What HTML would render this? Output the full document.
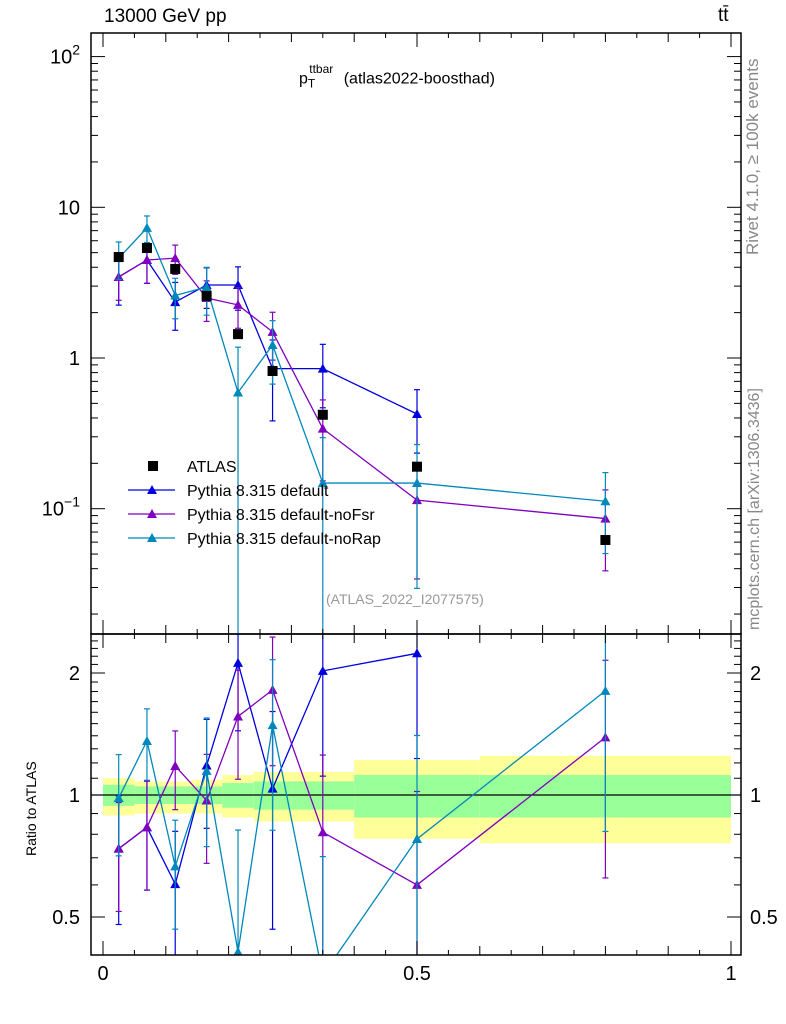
<!DOCTYPE html>
<html><head><meta charset="utf-8">
<style>
html,body{margin:0;padding:0;background:#fff;width:786px;height:1024px;overflow:hidden;}
svg{display:block;font-family:"Liberation Sans",sans-serif;}
</style></head>
<body>
<svg id="chart" width="786" height="1024" xmlns="http://www.w3.org/2000/svg"></svg>
<script>
const xVals=[0.025,0.07,0.115,0.165,0.215,0.27,0.35,0.5,0.8];
const binEdges=[0,0.05,0.09,0.14,0.19,0.24,0.3,0.4,0.6,1.0];
const atlas=[4.68,5.37,3.9,2.58,1.44,0.82,0.42,0.19,0.062];
const pyDefault=[3.45,4.47,2.35,3.05,3.05,0.85,0.85,0.425];
const pyDefaultErr=[0.35,0.3,0.35,0.3,0.32,0.55,0.45,0.45];
const pyNoFsr=[3.45,4.47,4.6,2.5,2.25,1.49,0.34,0.114,0.086];
const pyNoFsrErr=[0.3,0.3,0.22,0.3,0.3,0.35,0.55,0.7,0.55];
const pyNoRap=[4.6,7.3,2.6,2.96,0.59,1.22,0.148,0.148,0.112];
const pyNoRapErr=[0.28,0.2,0.3,0.35,1.0,0.45,1.0,0.8,0.55];
const bandYellowHi=[1.10,1.08,1.08,1.09,1.12,1.14,1.14,1.22,1.25];
const bandYellowLo=[0.89,0.90,0.90,0.90,0.88,0.86,0.86,0.78,0.76];
const bandGreenHi=[1.06,1.05,1.05,1.05,1.07,1.08,1.08,1.12,1.12];
const bandGreenLo=[0.94,0.95,0.95,0.95,0.93,0.92,0.92,0.88,0.88];
const xTickLabels=["0","0.5","1"];

const NS="http://www.w3.org/2000/svg";
const svg=document.getElementById('chart');
const L=91,R=741,X0=103,X1=731;
const mainTop=33,mainBot=634,ratTop=634,ratBot=955;
function sx(v){return X0+(X1-X0)*v;}
function sy(v){return 358-150.7*Math.log10(v);}
function ry(v){return 795-122*Math.log2(v);}
function clamp(y,a,b){return Math.max(a,Math.min(b,y));}
function mk(tag,attrs,parent){const e=document.createElementNS(NS,tag);for(const k in attrs)e.setAttribute(k,attrs[k]);(parent||svg).appendChild(e);return e;}

const defs=mk('defs',{});
const cpM=mk('clipPath',{id:'cm'},defs);mk('rect',{x:L,y:mainTop,width:R-L,height:mainBot-mainTop},cpM);
const cpR=mk('clipPath',{id:'cr'},defs);mk('rect',{x:L,y:ratTop,width:R-L,height:ratBot-ratTop},cpR);

const gBand=mk('g',{'clip-path':'url(#cr)'});


for(let i=0;i<atlas.length;i++){
  const x1=sx(binEdges[i]),x2=sx(binEdges[i+1]);
  const y=mk('rect',{x:x1,y:ry(bandYellowHi[i]),width:x2-x1,height:ry(bandYellowLo[i])-ry(bandYellowHi[i]),fill:'#ffff99'},gBand);
  
  
  const g=mk('rect',{x:x1,y:ry(bandGreenHi[i]),width:x2-x1,height:ry(bandGreenLo[i])-ry(bandGreenHi[i]),fill:'#99ff99'},gBand);
  
  
}
mk('line',{x1:L,x2:R,y1:ry(1),y2:ry(1),stroke:'#000','stroke-width':1.2});

function series(vals,errs,color,name){
  const gm=mk('g',{'clip-path':'url(#cm)'});
  
  
  const gr=mk('g',{'clip-path':'url(#cr)'});
  
  
  const fm=(t)=>clamp(sy(t),mainTop-20,mainBot+20);
  let pm=[],pr=[];
  for(let i=0;i<vals.length;i++){
    const x=sx(xVals[i]);
    const v=vals[i],e=errs[i];
    const lo=Math.max(v*(1-e),1e-4),hi=v*(1+e);
    const fr=(t)=>clamp(ry(t/atlas[i]),ratTop-20,ratBot+20);
    pm.push(x+','+fm(v));
    pr.push(x+','+fr(v));
    [[gm,fm],[gr,fr]].forEach(([g,f])=>{
      mk('line',{x1:x,x2:x,y1:f(lo),y2:f(hi),stroke:color,'stroke-width':1.2},g);
      mk('line',{x1:x-3,x2:x+3,y1:f(lo),y2:f(lo),stroke:color,'stroke-width':1.2},g);
      mk('line',{x1:x-3,x2:x+3,y1:f(hi),y2:f(hi),stroke:color,'stroke-width':1.2},g);
    });
  }
  mk('polyline',{points:pm.join(' '),fill:'none',stroke:color,'stroke-width':1.3},gm);
  mk('polyline',{points:pr.join(' '),fill:'none',stroke:color,'stroke-width':1.3},gr);
  for(let i=0;i<vals.length;i++){
    const x=sx(xVals[i]);
    [[gm,sy(vals[i])],[gr,ry(vals[i]/atlas[i])]].forEach(([g,y])=>{
      const t=mk('polygon',{points:`${x-5},${y+4} ${x+5},${y+4} ${x},${y-5}`,fill:color},g);
      
      
    });
  }
}
series(pyDefault,pyDefaultErr,'#0000dd','pythia-default');
series(pyNoFsr,pyNoFsrErr,'#7f00bf','pythia-nofsr');
series(pyNoRap,pyNoRapErr,'#0088bb','pythia-norap');

const ga=mk('g',{'clip-path':'url(#cm)'});


for(let i=0;i<atlas.length;i++){
  const x=sx(xVals[i]),y=sy(atlas[i]);
  const r=mk('rect',{x:x-5,y:y-5,width:10,height:10,fill:'#000'},ga);
  
  
}

mk('rect',{x:L,y:mainTop,width:R-L,height:mainBot-mainTop,fill:'none',stroke:'#000','stroke-width':1.5});
mk('rect',{x:L,y:ratTop,width:R-L,height:ratBot-ratTop,fill:'none',stroke:'#000','stroke-width':1.5});

for(let k=0;k<=20;k++){
  const v=k*0.05,x=sx(v),major=(k%10==0),med=(k%2==0);
  const len=major?14:(med?9:5);
  [[mainTop,1],[mainBot,-1],[ratTop,1],[ratBot,-1]].forEach(([y,d])=>mk('line',{x1:x,x2:x,y1:y,y2:y+d*len,stroke:'#000','stroke-width':1}));
}
xTickLabels.forEach((t,i)=>{
  const e=mk('text',{x:sx(i*0.5),y:980,'font-size':20,'text-anchor':'middle'});e.textContent=t;
  
  
});
for(let d=-2;d<=2;d++){for(let m=1;m<10;m++){
  const v=m*Math.pow(10,d),y=sy(v);if(y<mainTop||y>mainBot)continue;
  const len=m==1?14:7;
  mk('line',{x1:L,x2:L+len,y1:y,y2:y,stroke:'#000'});
  mk('line',{x1:R,x2:R-len,y1:y,y2:y,stroke:'#000'});
}}
function ylab(html,y){const e=mk('text',{x:80,y:y+7,'font-size':20,'text-anchor':'end'});e.innerHTML=html;
  
  }
ylab('10<tspan dy="-9" font-size="14">2</tspan>',sy(100));
ylab('10',sy(10));
ylab('1',sy(1));
ylab('10<tspan dy="-9" font-size="14">−1</tspan>',sy(0.1));
for(let v=0.4;v<=2.5;v+=0.1){const y=ry(v);if(y<ratTop||y>ratBot)continue;
  const major=Math.abs(v-0.5)<1e-6||Math.abs(v-1)<1e-6||Math.abs(v-2)<1e-6;const len=major?14:7;
  mk('line',{x1:L,x2:L+len,y1:y,y2:y,stroke:'#000'});mk('line',{x1:R,x2:R-len,y1:y,y2:y,stroke:'#000'});}
[['2',2],['1',1],['0.5',0.5]].forEach(([t,v])=>{
  const a=mk('text',{x:80,y:ry(v)+7,'font-size':20,'text-anchor':'end'});a.textContent=t;
  
  
  const b=mk('text',{x:750,y:ry(v)+7,'font-size':20});b.textContent=t;
  
  
});

const leg=[['ATLAS','#000','sq'],['Pythia 8.315 default','#0000dd'],['Pythia 8.315 default-noFsr','#7f00bf'],['Pythia 8.315 default-noRap','#0088bb']];
leg.forEach((l,i)=>{
  const y=466+i*24;
  const g=mk('g',{});
  
  
  if(l[2]){mk('rect',{x:148,y:y-5,width:10,height:10,fill:'#000'},g);}
  else{mk('line',{x1:128,x2:175,y1:y,y2:y,stroke:l[1],'stroke-width':1.3},g);
    mk('polygon',{points:`${147},${y+4} ${157},${y+4} ${152},${y-5}`,fill:l[1]},g);}
  const t=mk('text',{x:187,y:y+6,'font-size':16},g);t.textContent=l[0];
});
</script>
<div style="position:absolute;left:0;top:0;width:786px;height:1024px;overflow:hidden;pointer-events:none;font-family:'Liberation Sans',sans-serif;">
<div style="position:absolute;left:104px;top:6px;font-size:19px;">13000 GeV pp</div>
<div style="position:absolute;left:718px;top:5px;font-size:19px;">tt̄</div>
<div style="position:absolute;left:299px;top:66px;font-size:16px;white-space:nowrap;">p<sub style="font-size:12px;">T</sub><sup style="font-size:12px;position:relative;left:-6px;top:-4px;">ttbar</sup> (atlas2022-boosthad)</div>
<div style="position:absolute;left:326px;top:591px;font-size:14px;color:#999;">(ATLAS_2022_I2077575)</div>
<div style="position:absolute;left:743px;top:255px;font-size:17px;line-height:20px;color:#888;transform:rotate(-90deg);transform-origin:0 0;white-space:nowrap;">Rivet 4.1.0, ≥ 100k events</div>
<div style="position:absolute;left:745px;top:630px;font-size:16px;line-height:20px;color:#888;transform:rotate(-90deg);transform-origin:0 0;white-space:nowrap;">mcplots.cern.ch [arXiv:1306.3436]</div>
<div style="position:absolute;left:23px;top:856px;font-size:14px;transform:rotate(-90deg);transform-origin:0 0;white-space:nowrap;">Ratio to ATLAS</div>
</div>
</body></html>
